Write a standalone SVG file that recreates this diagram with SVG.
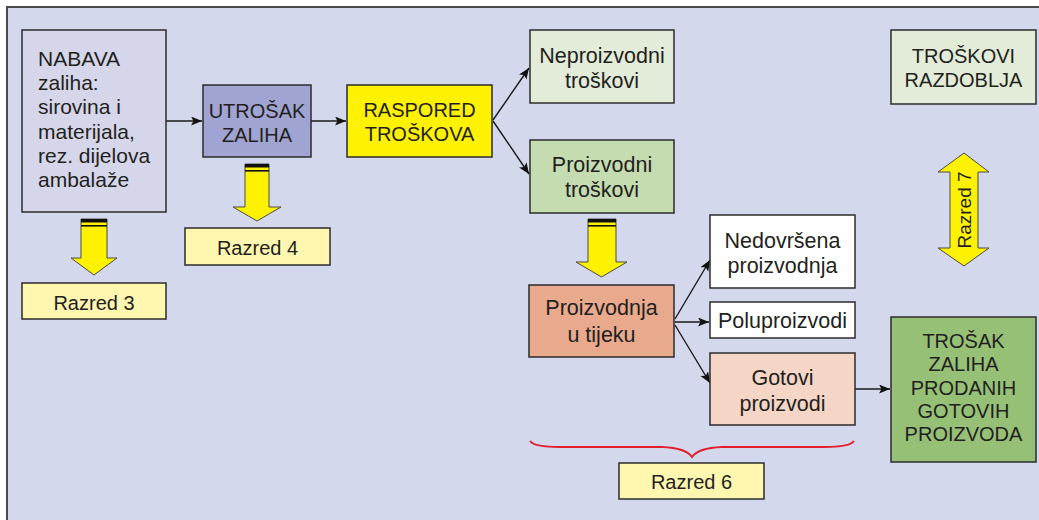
<svg xmlns="http://www.w3.org/2000/svg" width="1039" height="520" viewBox="0 0 1039 520">
<style>
  .box{stroke:#2b2b2b;stroke-width:1.5}
  .t{font-family:"Liberation Sans",Arial,sans-serif;font-size:21.5px;fill:#231f20}
  .c{text-anchor:middle}
  .n{font-size:21px}
  .cap{font-size:20px}
  .con{stroke:#1a1a1a;stroke-width:1.4;fill:none}
  .ya{fill:#fff200;stroke:#4a4a4a;stroke-width:1}
  .bar{fill:#111}
</style>
<defs>
  <marker id="ah" markerWidth="12" markerHeight="10" refX="11" refY="4.5" orient="auto" markerUnits="userSpaceOnUse">
    <path d="M0,0 L11,4.5 L0,9 L2.5,4.5 z" fill="#111"/>
  </marker>
</defs>
<rect x="0" y="0" width="1039" height="520" fill="#ffffff"/>
<rect x="7" y="7" width="1045" height="525" fill="#d3d8ec" stroke="#4a4a4a" stroke-width="2"/>

<g id="connectors">
  <line class="con" x1="166" y1="121" x2="202" y2="121" marker-end="url(#ah)"/>
  <line class="con" x1="311" y1="121" x2="346" y2="121" marker-end="url(#ah)"/>
  <line class="con" x1="493" y1="120" x2="529" y2="68" marker-end="url(#ah)"/>
  <line class="con" x1="493" y1="121" x2="529" y2="174" marker-end="url(#ah)"/>
  <line class="con" x1="675" y1="319" x2="710" y2="260" marker-end="url(#ah)"/>
  <line class="con" x1="675" y1="322" x2="709" y2="322" marker-end="url(#ah)"/>
  <line class="con" x1="675" y1="325" x2="710" y2="383" marker-end="url(#ah)"/>
  <line class="con" x1="855" y1="389" x2="890" y2="389" marker-end="url(#ah)"/>
</g>

<g id="nabava">
  <rect class="box" x="22" y="30" width="144" height="182" fill="#d6d6ea"/>
  <text class="t n" x="38" y="66"><tspan x="38" y="66">NABAVA</tspan><tspan x="38" y="90.2">zaliha:</tspan><tspan x="38" y="114.4">sirovina i</tspan><tspan x="38" y="138.6">materijala,</tspan><tspan x="38" y="162.8">rez. dijelova</tspan><tspan x="38" y="187">ambalaže</tspan></text>
</g>

<g id="utrosak">
  <rect class="box" x="203" y="85" width="108" height="72" fill="#a0a4d2"/>
  <text class="t c cap" x="257" y="118">UTROŠAK</text>
  <text class="t c cap" x="257" y="142">ZALIHA</text>
</g>

<g id="raspored">
  <rect class="box" x="347" y="85" width="145" height="72" fill="#fff200"/>
  <text class="t c cap" x="419.5" y="117">RASPORED</text>
  <text class="t c cap" x="419.5" y="141">TROŠKOVA</text>
</g>

<g id="neproizvodni">
  <rect class="box" x="530" y="30" width="144" height="73" fill="#e2ecd8"/>
  <text class="t c" x="602" y="63">Neproizvodni</text>
  <text class="t c" x="602" y="88">troškovi</text>
</g>

<g id="proizvodni">
  <rect class="box" x="530" y="140" width="144" height="73" fill="#c5dcb0"/>
  <text class="t c" x="602" y="172">Proizvodni</text>
  <text class="t c" x="602" y="197">troškovi</text>
</g>

<g id="troskovi-razdoblja">
  <rect class="box" x="891" y="30" width="145" height="74" fill="#e2ecd8"/>
  <text class="t c cap" x="963.5" y="63">TROŠKOVI</text>
  <text class="t c cap" x="963.5" y="87">RAZDOBLJA</text>
</g>

<g id="razred3-arrow">
  <path class="ya" d="M81,219 H107 V258 H117 L94,275 L71,258 H81 Z"/>
  <rect class="bar" x="81" y="219" width="26" height="3.5"/>
  <rect class="bar" x="81" y="225" width="26" height="1.6"/>
</g>
<g id="razred3">
  <rect class="box" x="22" y="283" width="144" height="36" fill="#fff6b0"/>
  <text class="t c cap" x="94" y="310">Razred 3</text>
</g>

<g id="razred4-arrow">
  <path class="ya" d="M245,164 H269 V207 H281 L257,221 L233,207 H245 Z"/>
  <rect class="bar" x="245" y="164" width="24" height="3.5"/>
  <rect class="bar" x="245" y="170" width="24" height="1.6"/>
</g>
<g id="razred4">
  <rect class="box" x="185" y="228" width="145" height="37" fill="#fff6b0"/>
  <text class="t c cap" x="257.5" y="255">Razred 4</text>
</g>

<g id="razred6-arrow">
  <path class="ya" d="M588,219 H616 V262 H627 L601.5,277 L576,262 H588 Z"/>
  <rect class="bar" x="588" y="219" width="28" height="3.5"/>
  <rect class="bar" x="588" y="225" width="28" height="1.6"/>
</g>

<g id="proizvodnja">
  <rect class="box" x="529" y="285" width="145" height="72" fill="#e8a98d"/>
  <text class="t c" x="601.5" y="315">Proizvodnja</text>
  <text class="t c" x="601.5" y="342">u tijeku</text>
</g>

<g id="nedovrsena">
  <rect class="box" x="710" y="215" width="145" height="73" fill="#ffffff"/>
  <text class="t c" x="782.5" y="248">Nedovršena</text>
  <text class="t c" x="782.5" y="273">proizvodnja</text>
</g>

<g id="poluproizvodi">
  <rect class="box" x="710" y="302" width="145" height="36" fill="#ffffff"/>
  <text class="t c" x="782.5" y="328">Poluproizvodi</text>
</g>

<g id="gotovi">
  <rect class="box" x="710" y="353" width="145" height="72" fill="#f5d6c6"/>
  <text class="t c" x="782.5" y="385">Gotovi</text>
  <text class="t c" x="782.5" y="411">proizvodi</text>
</g>

<g id="trosak-zaliha">
  <rect class="box" x="891" y="317" width="145" height="145" fill="#97c077"/>
  <text class="t c cap" x="963.5" y="348">TROŠAK</text>
  <text class="t c cap" x="963.5" y="371.3">ZALIHA</text>
  <text class="t c cap" x="963.5" y="394.6">PRODANIH</text>
  <text class="t c cap" x="963.5" y="417.9">GOTOVIH</text>
  <text class="t c cap" x="963.5" y="441.2">PROIZVODA</text>
</g>

<g id="razred7">
  <path class="ya" d="M964,153 L989,172 H978 V248 H989 L964,266 L938,248 H950 V172 H938 Z"/>
  <text class="t c" transform="translate(971,210) rotate(-90)" x="0" y="0" style="font-size:19px">Razred 7</text>
</g>

<g id="brace">
  <path d="M530,441 Q534,447 560,447 L662,447 Q686,448 692,457 Q698,448 722,447 L824,447 Q850,447 854,441" fill="none" stroke="#e21f2c" stroke-width="2"/>
</g>

<g id="razred6">
  <rect class="box" x="619" y="463" width="145" height="36" fill="#fff6b0"/>
  <text class="t c cap" x="691.5" y="489">Razred 6</text>
</g>
</svg>
